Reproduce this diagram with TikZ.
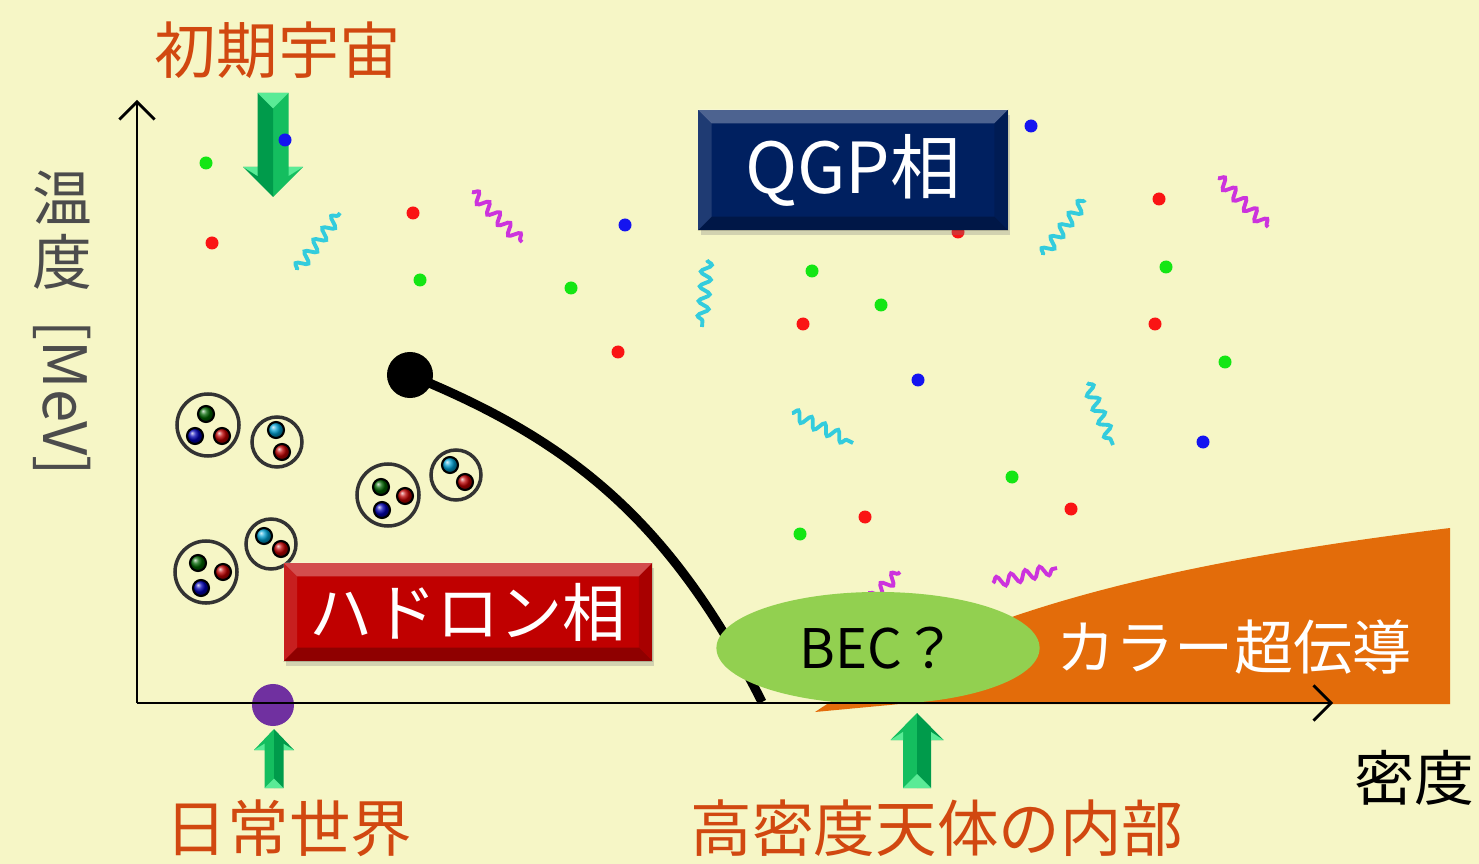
\documentclass[tikz,border=0pt]{standalone}
\usepackage{fontspec}
\newfontfamily\jpfont{Noto Sans CJK JP}
\usetikzlibrary{arrows.meta,shapes.geometric,shadows,decorations.pathmorphing}

\definecolor{bgcream}{RGB}{246,246,198}
\definecolor{labelred}{RGB}{209,72,16}
\definecolor{qgpblue}{RGB}{0,32,96}
\definecolor{hadred}{RGB}{192,0,0}
\definecolor{becgreen}{RGB}{146,208,80}
\definecolor{cscorange}{RGB}{227,108,10}
\definecolor{nowpurple}{RGB}{112,48,160}
\definecolor{arrowgreen}{RGB}{20,190,95}
\definecolor{arrowdark}{RGB}{0,155,75}
\definecolor{arrowlight}{RGB}{90,235,150}
\definecolor{gluoncyan}{RGB}{51,204,221}
\definecolor{gluonmag}{RGB}{204,51,221}
\definecolor{dotred}{RGB}{250,20,20}
\definecolor{dotgreen}{RGB}{20,230,20}
\definecolor{dotblue}{RGB}{20,20,240}
\definecolor{qred}{RGB}{190,0,0}
\definecolor{qgreen}{RGB}{0,100,0}
\definecolor{qblue}{RGB}{0,0,180}
\definecolor{qcyan}{RGB}{0,160,210}

\tikzset{
  pics/fatarrow/.style args={#1/#2/#3/#4}{code={
    % tip at (0,0), tail at (0,#1)
    \fill[arrowgreen] (0,0) -- (-#4,#2) -- (-#3,#2) -- (-#3,#1) -- (0,#1) -- cycle;
    \fill[arrowdark] (0,0) -- (#4,#2) -- (#3,#2) -- (#3,#1) -- (0,#1) -- cycle;
    \fill[arrowlight] (-#3,#1) -- (0,#1-#3) -- (#3,#1) -- cycle;
    \fill[arrowlight] (-#4,#2) -- (-#3,#2-0.3*#2) -- (-#3,#2) -- cycle;
    \fill[arrowlight] (#4,#2) -- (#3,#2-0.3*#2) -- (#3,#2) -- cycle;
  }},
  quark/.style={circle, draw=black, line width=0.6pt, minimum size=0.16cm, inner sep=0, shading=ball},
  gluon/.style={line width=1.1pt, decorate, decoration={snake, segment length=4.2pt, amplitude=1.5pt}}
}

% bevelled edges of a phase box
\newcommand{\bevelbox}[1]{
  \fill[white,opacity=0.3] (#1.north west) -- (#1.north east) -- ([shift={(-14,14)}]#1.north east) -- ([shift={(14,14)}]#1.north west) -- cycle;
  \fill[white,opacity=0.12] (#1.north west) -- ([shift={(14,14)}]#1.north west) -- ([shift={(14,-14)}]#1.south west) -- (#1.south west) -- cycle;
  \fill[black,opacity=0.12] (#1.north east) -- ([shift={(-14,14)}]#1.north east) -- ([shift={(-14,-14)}]#1.south east) -- (#1.south east) -- cycle;
  \fill[black,opacity=0.25] (#1.south west) -- ([shift={(14,-14)}]#1.south west) -- ([shift={(-14,-14)}]#1.south east) -- (#1.south east) -- cycle;
}

\begin{document}
\begin{tikzpicture}[x=0.01cm,y=-0.01cm,>={Straight Barb[length=5pt,width=10pt]},
  jplabel/.style={text=labelred, inner sep=0, font=\jpfont\fontsize{17.5pt}{20pt}\selectfont},
  axislabel/.style={inner sep=0, font=\jpfont\fontsize{17pt}{20pt}\selectfont},
  phasebox/.style={text=white, inner sep=0, drop shadow={opacity=0.3, shadow xshift=0.6pt, shadow yshift=-1.5pt}}]

\fill[bgcream] (0,0) rectangle (1479,864);
\useasboundingbox (0,0) rectangle (1479,864);

% early universe arrow
\pic[rotate=180] at (273,197) {fatarrow={104/30/15.5/30}};

% free quarks
\foreach \px/\py/\c in {206/163/dotgreen, 285/140/dotblue, 212/243/dotred, 413/213/dotred,
  420/280/dotgreen, 625/225/dotblue, 571/288/dotgreen, 618/352/dotred, 812/271/dotgreen,
  803/324/dotred, 881/305/dotgreen, 918/380/dotblue, 958/232/dotred, 1031/126/dotblue,
  1159/199/dotred, 1166/267/dotgreen, 1155/324/dotred, 1225/362/dotgreen, 1203/442/dotblue,
  1012/477/dotgreen, 1071/509/dotred, 865/517/dotred, 800/534/dotgreen}
  \fill[\c] (\px,\py) circle (6.5);

% gluons
\foreach \ax/\ay/\bx/\by/\c in {297/270/340/213/gluoncyan, 472/192/522/242/gluonmag,
  707/260/702/327/gluoncyan, 792/413/853/443/gluoncyan, 1043/255/1085/200/gluoncyan,
  1218/178/1268/227/gluonmag, 1087/383/1113/445/gluoncyan, 870/600/900/572/gluonmag,
  993/583/1057/568/gluonmag}
  \draw[gluon, \c] (\ax,\ay) -- (\bx,\by);

\node[phasebox, fill=qgpblue, minimum width=3.09cm, minimum height=1.2cm,
  font=\jpfont\fontsize{20pt}{22pt}\selectfont] (qgp) at (853,170) {QGP相};
\bevelbox{qgp}

% hadrons
\foreach \hx/\hy/\r [count=\i] in {208/425/62, 388/495/62, 206/572/62, 277/442/50, 456/475/50, 271/544/50}
  \node[circle, draw=black!80, line width=1pt, minimum size=\r*0.01cm, inner sep=0] (h\i) at (\hx,\hy) {};
\foreach \qx/\qy/\c [count=\i] in {206/414/qgreen, 195/436/qblue, 222/436/qred,
  381/487/qgreen, 405/496/qred, 382/510/qblue,
  198/563/qgreen, 223/572/qred, 201/588/qblue,
  276/430/qcyan, 282/452/qred, 450/465/qcyan, 465/482/qred, 264/536/qcyan, 281/549/qred}
  \node[quark, ball color=\c] (q\i) at (\qx,\qy) {};

\node[phasebox, fill=hadred, minimum width=3.68cm, minimum height=0.98cm,
  font=\jpfont\fontsize{18pt}{20pt}\selectfont] (hadron) at (468,612) {ハドロン相};
\bevelbox{hadron}

% colour superconductivity
\fill[cscorange] (815,712) .. controls (960,615) and (1150,565) .. (1450,528) -- (1450,704) -- (900,704) -- cycle;

% phase boundary
\node[circle, fill=black, minimum size=0.46cm, inner sep=0] (cp) at (410,375) {};
\coordinate (tc) at (762,702);
\draw[line width=2.6pt] (cp.center) .. controls (570,440) and (670,520) .. (tc);

\node[ellipse, fill=becgreen, minimum width=3.23cm, minimum height=1.12cm, inner sep=0,
  font=\jpfont\fontsize{15.5pt}{18pt}\selectfont] (bec) at (878,648) {BEC？};
\node[text=white, inner sep=0, font=\jpfont\fontsize{16.8pt}{20pt}\selectfont] (csc) at (1234,647) {カラー超伝導};

\node[circle, fill=nowpurple, minimum size=0.42cm, inner sep=0] (now) at (273,705) {};

% axes
\coordinate (o) at (137,703);
\coordinate (xend) at (1333,703);
\coordinate (yend) at (137,100);
\draw[->, line width=0.8pt] (o) -- (xend);
\draw[->, line width=0.8pt] (o) -- (yend);

\pic at (274,729) {fatarrow={59/21/9.5/20}};
\pic at (917,713) {fatarrow={75/27/14/26.5}};

\node[jplabel] (early) at (278,50) {初期宇宙};
\node[jplabel] (daily) at (289,828) {日常世界};
\node[jplabel] (star) at (937,828) {高密度天体の内部};
\node[axislabel] (dens) at (1414,778) {密度};
\node[axislabel, text=black!70] (t1) at (62,198) {温};
\node[axislabel, text=black!70] (t2) at (62,262) {度};
\node[axislabel, text=black!70, rotate=-90] (mev) at (62,398) {[MeV]};

\end{tikzpicture}
\end{document}
